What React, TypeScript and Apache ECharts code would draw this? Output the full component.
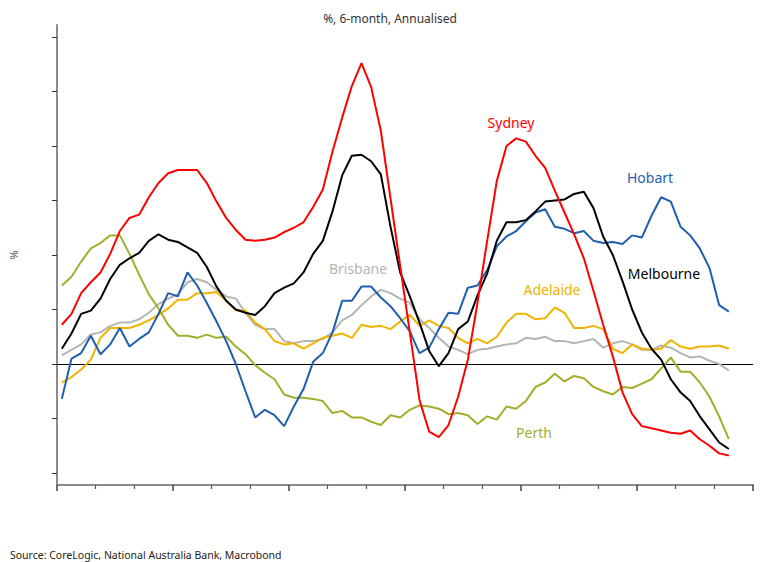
import React, { useEffect, useRef } from "react";
import * as echarts from "echarts";

const sydney = [3.6, 4.6, 6.5, 7.5, 8.4, 10.1, 12.2, 13.4, 13.7, 15.3, 16.6, 17.5, 17.8, 17.8, 17.8, 16.6, 14.9, 13.4, 12.3, 11.4, 11.3, 11.4, 11.6, 12.1, 12.5, 13.0, 14.4, 16.0, 19.5, 22.6, 25.5, 27.6, 25.4, 21.4, 15.2, 9.0, 2.9, -3.3, -6.2, -6.7, -5.6, -3.0, 0.4, 5.6, 11.3, 16.8, 20.0, 20.7, 20.4, 19.1, 18.0, 15.9, 13.9, 11.9, 9.7, 6.7, 3.6, 0.7, -2.6, -4.6, -5.7, -5.9, -6.1, -6.3, -6.4, -6.1, -6.9, -7.5, -8.2, -8.4];
const melbourne = [1.4, 2.8, 4.6, 4.9, 6.0, 7.8, 9.1, 9.7, 10.2, 11.3, 11.9, 11.4, 11.2, 10.7, 10.2, 8.9, 7.1, 5.8, 5.0, 4.7, 4.5, 5.3, 6.5, 7.0, 7.4, 8.4, 10.1, 11.3, 14.0, 17.3, 19.1, 19.2, 18.6, 17.4, 12.6, 8.4, 6.2, 3.8, 1.2, -0.2, 1.0, 3.2, 3.9, 6.3, 8.3, 11.3, 13.0, 13.0, 13.2, 14.0, 14.9, 15.0, 15.1, 15.6, 15.8, 14.3, 11.7, 10.0, 7.6, 5.0, 2.9, 1.4, 0.4, -1.4, -2.6, -3.4, -4.8, -6.0, -7.2, -7.8];
const hobart = [-3.2, 0.5, 1.0, 2.6, 0.9, 1.8, 3.3, 1.6, 2.3, 2.9, 4.6, 6.5, 6.2, 8.4, 7.2, 5.6, 3.9, 2.1, 0.0, -2.5, -4.9, -4.2, -4.7, -5.7, -3.9, -2.3, 0.2, 1.0, 2.9, 5.8, 5.8, 7.1, 7.1, 6.1, 5.3, 4.2, 3.0, 1.0, 1.5, 3.2, 4.7, 4.6, 7.0, 7.2, 8.6, 10.8, 11.7, 12.2, 13.1, 13.9, 14.2, 12.6, 12.4, 12.0, 12.2, 11.3, 11.1, 11.2, 11.0, 11.8, 11.6, 13.6, 15.3, 14.9, 12.6, 11.8, 10.6, 8.8, 5.4, 4.8];
const brisbane = [0.8, 1.3, 1.8, 2.7, 2.9, 3.5, 3.8, 3.8, 4.1, 4.7, 5.5, 6.0, 6.4, 7.5, 7.8, 7.5, 6.8, 6.2, 6.0, 4.7, 3.6, 3.2, 3.2, 2.1, 1.9, 2.1, 2.1, 2.3, 2.9, 4.0, 4.5, 5.4, 6.2, 6.8, 6.5, 6.0, 5.6, 4.1, 3.3, 2.4, 1.6, 1.3, 0.9, 1.3, 1.4, 1.6, 1.8, 1.9, 2.4, 2.3, 2.5, 2.1, 2.1, 1.9, 2.1, 2.3, 1.5, 1.9, 2.1, 1.8, 1.3, 1.3, 1.7, 1.5, 1.0, 0.6, 0.7, 0.3, 0.0, -0.6];
const adelaide = [-1.7, -1.2, -0.5, 0.4, 2.4, 3.3, 3.3, 3.3, 3.6, 4.0, 4.5, 5.1, 5.9, 5.9, 6.5, 6.5, 6.6, 5.8, 4.9, 4.9, 3.8, 3.2, 2.1, 1.8, 1.9, 1.4, 1.9, 2.4, 2.6, 2.8, 2.4, 3.6, 3.4, 3.5, 3.2, 3.9, 4.5, 3.5, 4.0, 3.5, 3.3, 2.4, 1.9, 2.3, 1.9, 2.5, 3.8, 4.6, 4.6, 4.1, 4.2, 5.2, 4.7, 3.3, 3.3, 3.5, 3.2, 1.4, 1.0, 1.8, 1.4, 1.3, 1.4, 2.2, 1.6, 1.4, 1.6, 1.6, 1.7, 1.4];
const perth = [7.2, 8.0, 9.4, 10.6, 11.1, 11.8, 11.8, 10.1, 8.2, 6.4, 5.1, 3.6, 2.6, 2.6, 2.4, 2.7, 2.4, 2.5, 1.6, 0.9, -0.1, -0.8, -1.4, -2.8, -3.1, -3.1, -3.2, -3.4, -4.5, -4.3, -4.9, -4.9, -5.3, -5.6, -4.7, -4.9, -4.2, -3.8, -3.9, -4.1, -4.6, -4.5, -4.7, -5.5, -4.8, -5.1, -3.9, -4.1, -3.4, -2.1, -1.7, -0.9, -1.6, -1.1, -1.3, -2.1, -2.5, -2.8, -2.1, -2.2, -1.8, -1.4, -0.4, 0.6, -0.7, -0.7, -1.7, -3.0, -4.8, -6.9];

// x axis in months since axis start; monthly observations sit mid-month
const X_MIN = 0;
const X_MAX = 72;
const X_MAJOR = 12; // one year
const yTicks = [-10, -5, 0, 5, 10, 15, 20, 25, 30];

const FONT = "Noto Sans";

const seriesDefs = [
  { name: "Brisbane", data: brisbane, color: "#b5b5b5" },
  { name: "Adelaide", data: adelaide, color: "#f0b400" },
  { name: "Perth", data: perth, color: "#a2ae2b" },
  { name: "Hobart", data: hobart, color: "#1f5fad" },
  { name: "Melbourne", data: melbourne, color: "#000000" },
  { name: "Sydney", data: sydney, color: "#ff0000" },
];

const labels = [
  { text: "Sydney", x: 511, y: 122, color: "#ff0000" },
  { text: "Hobart", x: 650, y: 177, color: "#1f5fad" },
  { text: "Melbourne", x: 664, y: 273, color: "#000000" },
  { text: "Brisbane", x: 358, y: 268, color: "#b5b5b5" },
  { text: "Adelaide", x: 552, y: 289, color: "#f0b400" },
  { text: "Perth", x: 534, y: 432, color: "#a2ae2b" },
];

export default function App() {
  const ref = useRef<HTMLDivElement>(null);
  useEffect(() => {
    if (!ref.current) return;
    const chart = echarts.init(ref.current, null, { renderer: "svg" });
    const series: any[] = seriesDefs.map((s, idx) => ({
      name: s.name,
      type: "line",
      data: s.data.map((v, i) => [i + 0.5, v]),
      symbol: "none",
      lineStyle: { color: s.color, width: 2 },
      itemStyle: { color: s.color },
      z: 3 + idx,
    }));
    series[0].markLine = {
      silent: true,
      symbol: "none",
      label: { show: false },
      lineStyle: { color: "#000", width: 1, type: "solid" },
      data: [{ yAxis: 0 }],
      z: 2,
    };
    chart.setOption({
      animation: false,
      backgroundColor: "#ffffff",
      textStyle: { fontFamily: FONT },
      grid: { left: 54, right: 12, top: 25, bottom: 77 },
      xAxis: {
        type: "value",
        min: X_MIN,
        max: X_MAX,
        interval: X_MAJOR,
        axisLine: { show: true, onZero: false, lineStyle: { color: "#8c8c8c", width: 2 } },
        axisTick: { show: true, length: 6, lineStyle: { color: "#444", width: 1.5 } },
        minorTick: { show: true, splitNumber: 3, length: 4, lineStyle: { color: "#555", width: 1.2 } },
        axisLabel: { show: false },
        splitLine: { show: false },
        minorSplitLine: { show: false },
      },
      yAxis: {
        type: "value",
        min: -11.1,
        max: 31.1,
        name: "%",
        nameLocation: "middle",
        nameGap: 38,
        nameRotate: 90,
        nameTextStyle: { fontSize: 11, color: "#555", fontFamily: FONT },
        axisLine: { show: true, onZero: false, lineStyle: { color: "#8c8c8c", width: 2 } },
        axisTick: { show: true, length: 5, customValues: yTicks, lineStyle: { color: "#333", width: 1 } },
        axisLabel: { show: false, customValues: yTicks },
        splitLine: { show: false },
      },
      series,
      graphic: [
        {
          type: "text",
          x: 390,
          y: 18,
          silent: true,
          style: {
            text: "%, 6-month, Annualised",
            fill: "#333",
            fontSize: 12,
            fontFamily: FONT,
            textAlign: "center",
            textVerticalAlign: "middle",
          },
        },
        ...labels.map((l) => ({
          type: "text",
          x: l.x,
          y: l.y,
          silent: true,
          style: {
            text: l.text,
            fill: l.color,
            fontSize: 14,
            fontFamily: FONT,
            textAlign: "center",
            textVerticalAlign: "middle",
          },
        })),
        {
          type: "text",
          x: 10,
          y: 555,
          silent: true,
          style: {
            text: "Source: CoreLogic, National Australia Bank, Macrobond",
            fill: "#222",
            fontSize: 10.5,
            fontFamily: FONT,
            textAlign: "left",
            textVerticalAlign: "middle",
          },
        },
      ],
    });
    return () => chart.dispose();
  }, []);
  return (
    <div
      ref={ref}
      style={{ position: "fixed", left: 0, top: 0, width: 765, height: 562 }}
    />
  );
}
